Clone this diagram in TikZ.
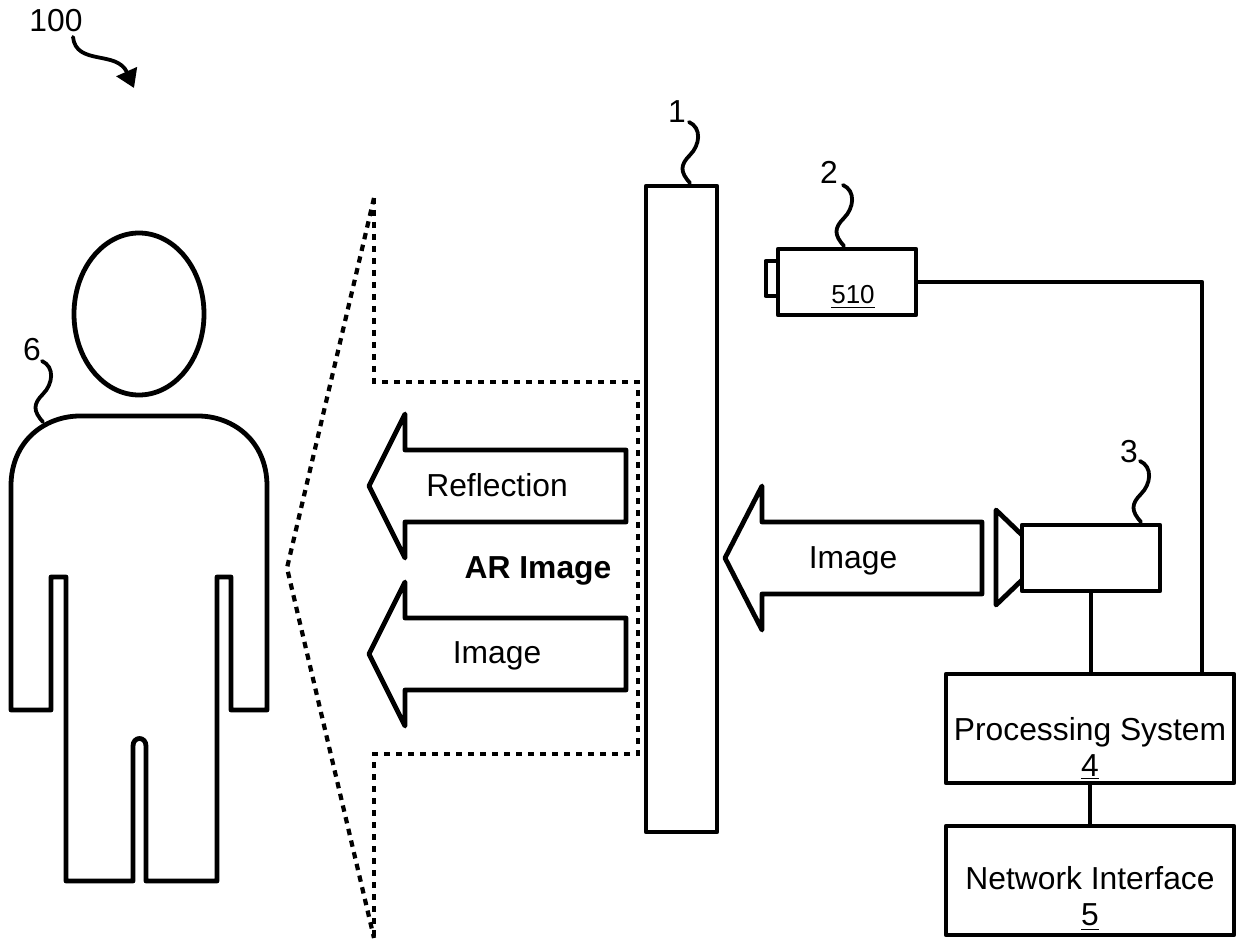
\documentclass[tikz,border=0pt]{standalone}
\usepackage{fontspec}
\setmainfont{Liberation Sans}
\usetikzlibrary{arrows.meta,shapes.geometric}
\tikzset{
  outline/.style={line width=2.4pt,line join=round},
  box/.style={outline,draw,rectangle,inner sep=0pt},
  lead/.style={line width=1.9pt,line cap=round},
  dots/.style={line width=2.1pt,dash pattern=on 3.2pt off 2.8pt},
  txt/.style={inner sep=0pt,font=\fontsize{15.9}{17}\selectfont,align=center},
  small/.style={inner sep=0pt,font=\fontsize{13}{14}\selectfont}
}
\begin{document}
\begin{tikzpicture}[x=0.5pt,y=-0.5pt]
  \useasboundingbox (0,0) rectangle (1238,941);
  % person
  \node[outline,draw,ellipse,minimum width=65pt,minimum height=81pt,inner sep=0pt] (head) at (139,314) {};
  \draw[outline] (11,710) -- (11,486) .. controls (11,441) and (45,416) .. (80,416)
    -- (198,416) .. controls (233,416) and (267,441) .. (267,486) -- (267,710)
    -- (231,710) -- (231,577) -- (217,577) -- (217,881) -- (146,881) -- (146,746)
    .. controls (146,736) and (133,736) .. (133,746) -- (133,881) -- (66,881)
    -- (66,577) -- (51,577) -- (51,710) -- cycle;
  % field of view
  \coordinate (viewtop) at (374,198);
  \coordinate (viewapex) at (287,568);
  \coordinate (viewbot) at (374,938);
  \draw[dots] (viewtop) -- (viewapex) -- (viewbot);
  \draw[dots] (viewtop) -- (374,382) -- (638,382) -- (638,754) -- (374,754) -- (viewbot);
  % arrows
  \draw[outline] (369,486) -- ++(36,-72) -- ++(0,36) -- ++(221,0) -- ++(0,72) -- ++(-221,0) -- ++(0,36) -- cycle;
  \draw[outline] (369,654) -- ++(36,-72) -- ++(0,36) -- ++(221,0) -- ++(0,72) -- ++(-221,0) -- ++(0,36) -- cycle;
  \draw[outline] (725,558) -- ++(37,-72) -- ++(0,36) -- ++(220,0) -- ++(0,72) -- ++(-220,0) -- ++(0,36) -- cycle;
  \node[txt] (reflection) at (497,485) {Reflection};
  \node[txt] (image1) at (497,656) {Image};
  \node[txt] (image2) at (853,561) {Image};
  \node[txt,font=\fontsize{15.9}{17}\selectfont\bfseries] (arimage) at (538,571) {AR Image};
  % devices
  \node[box,minimum width=35.5pt,minimum height=323pt] (screen) at (681.5,509) {};
  \node[box,minimum width=69pt,minimum height=33pt] (sensor) at (847,282) {};
  \draw[outline,line width=2pt] (778,261) -- (765.5,261) -- (765.5,296) -- (778,296);
  \node[small] (sensorno) at (853,297) {\underline{510}};
  \node[box,minimum width=69pt,minimum height=33pt] (camera) at (1091,558) {};
  \draw[outline] (1022,535) -- (996,510) -- (996,605) -- (1022,580);
  \node[box,minimum width=144pt,minimum height=54.5pt] (proc) at (1090,728.5) {};
  \node[box,minimum width=144pt,minimum height=54.5pt] (net) at (1090,880.5) {};
  \node[txt] (proctext) at (1090,748.5) {Processing System\\[1pt]\underline{4}};
  \node[txt] (nettext) at (1090,898.5) {Network Interface\\[1pt]\underline{5}};
  % wires
  \draw[outline] (camera.south) -- (camera.south |- proc.north);
  \draw[outline] (sensor.east) -- (1202,282) -- (1202,674);
  \draw[outline] (proc.south) -- (net.north);
  % reference numerals
  \node[txt] (no100) at (56,21) {100};
  \node[txt] (no1) at (677,112) {1};
  \node[txt] (no2) at (829,172) {2};
  \node[txt] (no3) at (1129,452) {3};
  \node[txt] (no6) at (32,350) {6};
  \coordinate (end100) at (134,88);
  \draw[lead,-{Triangle[length=9pt,width=11pt]}] (73,37) .. controls (76,66) and (117,50) .. (end100);
  \foreach \dx/\dy in {0/0,154/63,451/339,-647/239}
    \draw[lead,shift={(\dx,\dy)}] (689,122) .. controls (702,128) and (700,145) .. (690,155) .. controls (680,165) and (680,172) .. (690,183);
\end{tikzpicture}
\end{document}
